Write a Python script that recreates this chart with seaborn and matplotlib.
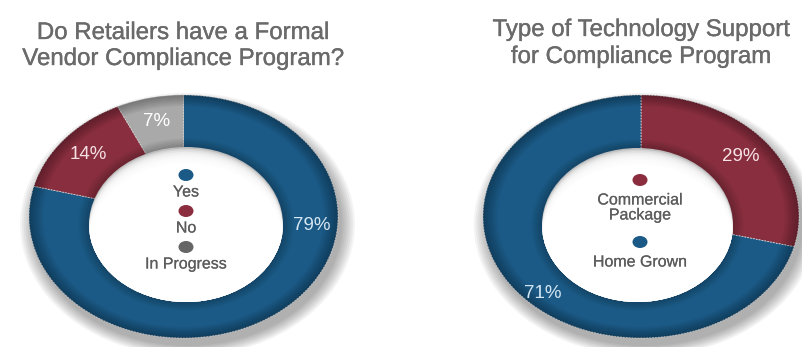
import matplotlib
matplotlib.use("Agg")
import numpy as np
import matplotlib.pyplot as plt
import matplotlib.patheffects as pe
from matplotlib.patches import Ellipse, Wedge
import seaborn as sns

# ---- data -------------------------------------------------------------
program_labels = ["Yes", "No", "In Progress"]
program_share = [79, 14, 7]

support_labels = ["Commercial Package", "Home Grown"]
support_share = [29, 71]

program_title = ["Do Retailers have a Formal", "Vendor Compliance Program?"]
support_title = ["Type of Technology Support", "for Compliance Program"]

# ---- style ------------------------------------------------------------
sns.set_theme(style="white")
plt.rcParams["font.family"] = ["Liberation Sans", "DejaVu Sans"]

BLUE, RED, GREY = "#1b5a86", "#892e3f", "#a9a9a9"
program_colors = sns.color_palette([BLUE, RED, GREY])
support_colors = sns.color_palette([RED, BLUE])
program_dots = [BLUE, "#8b2d3e", "#666666"]
support_dots = ["#8b2d3e", BLUE]
program_pct_colors = ["#d6e7f3", "#f4dfe3", "#ffffff"]
support_pct_colors = ["#f6e3e7", "#d2e5f2"]
TITLE_C = "#6a6a6a"
LEGEND_C = "#5c5c5c"

W, H = 803, 347
fig = plt.figure(figsize=(W / 100, H / 100), dpi=100)
fig.patch.set_facecolor("white")


def donut(region, center, semi, hole_center, hole_semi, values, colors,
          pct_colors, label_place):
    """Draw a bevelled, slightly tilted donut inside a pixel region."""
    x0, x1, y0, y1 = region
    ax = fig.add_axes([x0 / W, 1 - y1 / H, (x1 - x0) / W, (y1 - y0) / H])
    cx, cy = center
    a, b = semi

    # soft drop shadow under the ring
    for k in range(8):
        s = 1.0 + 0.012 * k
        ax.add_patch(Ellipse((4 / a, -8 / b), 2 * s, 2 * s,
                             color="#000000", alpha=0.045, lw=0, zorder=0))

    wedges, _, autotexts = ax.pie(
        values, colors=colors, startangle=90, counterclock=False, radius=1,
        autopct=lambda p: f"{p:.0f}%", pctdistance=0.8,
        wedgeprops=dict(edgecolor="#d5d5d5", linewidth=0.6,
                        linestyle=(0, (2, 1.5))),
        textprops=dict(fontsize=13.5),
    )
    ax.set_aspect("auto")
    ax.set_xlim((x0 - cx) / a, (x1 - cx) / a)
    ax.set_ylim((cy - y1) / b, (cy - y0) / b)
    ax.axis("off")

    # darker outer rim for a rounded look
    for k in range(6):
        ax.add_patch(Wedge((0, 0), 1.0, 0, 360, width=0.015 * (k + 1),
                           color="#000000", alpha=0.05, lw=0, zorder=2))

    hx, hy = (hole_center[0] - cx) / a, (cy - hole_center[1]) / b
    hw, hh = 2 * hole_semi[0] / a, 2 * hole_semi[1] / b

    # darker inner rim
    for k in range(5):
        s = 1.0 + 0.022 * (k + 1)
        ax.add_patch(Ellipse((hx, hy), hw * s, hh * s, color="#000000",
                             alpha=0.045, lw=0, zorder=2))

    # hole with a shadow falling in from the top edge
    hole = Ellipse((hx, hy), hw, hh, color="#bdbdbd", lw=0, zorder=3)
    ax.add_patch(hole)
    steps = 10
    for k in range(steps):
        off = (k + 1) * 1.6 / b
        e = Ellipse((hx, hy - off), hw, hh, color="white",
                    alpha=0.35 if k < steps - 1 else 1.0, lw=0, zorder=3)
        ax.add_patch(e)
        e.set_clip_path(hole)

    for i, t in enumerate(autotexts):
        t.set_color(pct_colors[i])
        t.set_zorder(6)
        if i in label_place:
            ang, dist = label_place[i]
            t.set_position((dist * np.cos(np.radians(ang)),
                            dist * np.sin(np.radians(ang))))
    return ax


donut((0, 402, 80, 347), (183.5, 216.5), (154.5, 121.5),
      (186, 224.5), (97, 77.5), program_share, program_colors,
      program_pct_colors, {0: (-5, 0.835)})
donut((402, 803, 80, 347), (641, 216.5), (158, 121.5),
      (637.5, 225), (95.5, 77), support_share, support_colors,
      support_pct_colors, {1: (-134.5, 0.89)})

# ---- overlay: titles and in-hole legends (pixel coordinates) ----------
ov = fig.add_axes([0, 0, 1, 1], zorder=10)
ov.set_xlim(0, W)
ov.set_ylim(H, 0)
ov.axis("off")
ov.patch.set_alpha(0)

thick = [pe.withStroke(linewidth=0.25, foreground=TITLE_C)]
for line, base in zip(program_title, (39, 65)):
    ov.text(183, base, line, ha="center", va="baseline", fontsize=17.3,
            color=TITLE_C, path_effects=thick)
for line, base in zip(support_title, (36, 63)):
    ov.text(641, base, line, ha="center", va="baseline", fontsize=17.3,
            color=TITLE_C, path_effects=thick)


def legend(x, y, labels, dots, drop, gap, max_chars):
    for lab, col in zip(labels, dots):
        ov.add_patch(Ellipse((x, y), 15, 12, color=col, lw=0))
        lines = lab.split(" ") if len(lab) > max_chars else [lab]
        ty = y + drop
        for ln in lines:
            ov.text(x, ty, ln, ha="center", va="center", fontsize=11.5,
                    color=LEGEND_C,
                    path_effects=[pe.withStroke(linewidth=0.12,
                                                foreground=LEGEND_C)])
            ty += 15
        y = ty - 15 + gap


legend(186, 175, program_labels, program_dots, 17, 19, 14)
legend(640, 180, support_labels, support_dots, 20, 27, 14)

fig.savefig("out.png", dpi=100, facecolor="white")
